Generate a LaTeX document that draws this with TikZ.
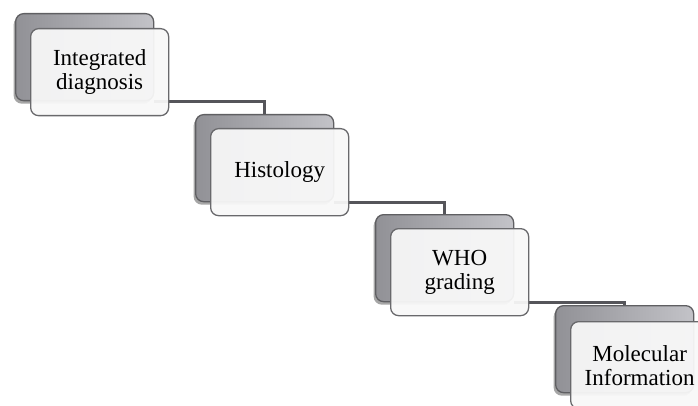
\documentclass[tikz,border=0pt]{standalone}
\usepackage{fontspec}
\setmainfont{Liberation Serif}
\usetikzlibrary{shadows}
\definecolor{connc}{RGB}{85,85,90}
\definecolor{bordb}{RGB}{95,95,98}
\definecolor{bordf}{RGB}{105,105,108}
\definecolor{backl}{RGB}{145,145,150}
\definecolor{backr}{RGB}{195,195,200}
\definecolor{frontc}{RGB}{248,248,248}
\begin{document}
\begin{tikzpicture}[x=1pt,y=-1pt,
  backbox/.style={draw=bordb, line width=1.3pt, rounded corners=8pt,
    left color=backl, right color=backr, minimum width=138pt, minimum height=87pt,
    inner sep=0pt, anchor=north west,
    drop shadow={shadow xshift=-2pt, shadow yshift=-3pt, opacity=0.35, fill=black}},
  frontbox/.style={draw=bordf, line width=1.3pt, rounded corners=8pt,
    fill=frontc, fill opacity=0.94, text opacity=1, draw opacity=1,
    minimum width=138pt, minimum height=87pt, inner sep=0pt, anchor=north west,
    align=center, font=\fontsize{23}{24}\selectfont},
  conn/.style={draw=connc, line width=3.5pt}]
\useasboundingbox (0,0) rectangle (698,406);
\node[backbox] (b1) at (15,13) {};
\node[backbox] (b2) at (195,114) {};
\node[backbox] (b3) at (375,214) {};
\node[backbox] (b4) at (555,305) {};
\draw[conn] (b1.south east) -| (b2.north);
\draw[conn] (b2.south east) -| (b3.north);
\draw[conn] (b3.south east) -| (b4.north);
\node[frontbox] (f1) at (30,28) {Integrated\\diagnosis};
\node[frontbox] (f2) at (210,128) {Histology};
\node[frontbox] (f3) at (390,228) {WHO\\grading};
\node[frontbox] (f4) at (570,321) {Molecular\\Information};
\end{tikzpicture}
\end{document}
